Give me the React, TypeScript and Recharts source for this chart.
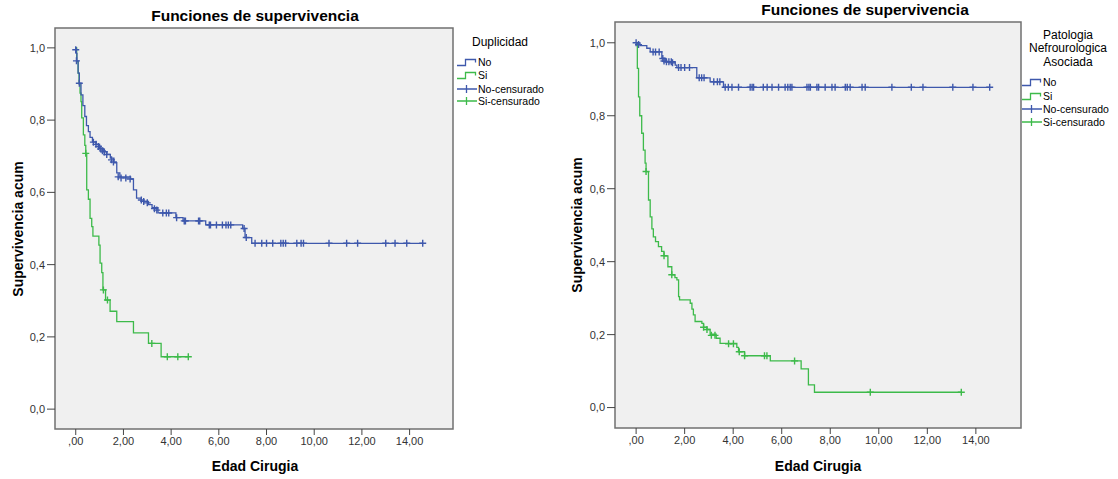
import React from 'react';
import { ComposedChart, Line, Scatter, XAxis, YAxis, ReferenceArea } from 'recharts';

const BLUE = '#3E58AC';
const GREEN = '#3DBA4A';
const FONT = '"Liberation Sans", Arial, sans-serif';

const xTicks = [0, 2, 4, 6, 8, 10, 12, 14];
const yTicks = [0, 0.2, 0.4, 0.6, 0.8, 1.0];

const chartTitle = 'Funciones de supervivencia';
const xAxisTitle = 'Edad Cirugia';
const yAxisTitle = 'Supervivencia acum';
const legendLeftTitle = ['Duplicidad'];
const legendRightTitle = ['Patologia', 'Nefrourologica', 'Asociada'];
const legendItems = ['No', 'Si', 'No-censurado', 'Si-censurado'];

// Left panel: Duplicidad
const dupNoTimes = [0, 0.02, 0.05, 0.1, 0.15, 0.22, 0.3, 0.38, 0.45, 0.53, 0.6, 0.7, 0.85, 1.0, 1.15, 1.3, 1.45, 1.6, 1.72, 1.85, 2.3, 2.42, 2.55, 2.75, 3.05, 3.2, 3.45, 4.2, 4.5, 5.45, 7.0, 7.1, 7.38, 14.55];
const dupNoSurv = [1.0, 0.985, 0.964, 0.93, 0.902, 0.87, 0.84, 0.81, 0.785, 0.768, 0.752, 0.74, 0.733, 0.722, 0.713, 0.705, 0.695, 0.682, 0.654, 0.643, 0.637, 0.607, 0.584, 0.575, 0.566, 0.558, 0.543, 0.53, 0.521, 0.51, 0.5, 0.475, 0.459, 0.459];
const dupNoCensT = [0.0, 0.03, 0.15, 0.74, 0.85, 0.95, 1.05, 1.12, 1.2, 1.3, 1.5, 1.58, 1.78, 1.9, 2.1, 2.28, 2.75, 2.85, 3.0, 3.3, 3.4, 3.65, 3.8, 3.9, 4.23, 4.55, 4.6, 5.15, 5.2, 5.6, 5.65, 5.9, 6.15, 6.3, 6.4, 6.5, 7.06, 7.15, 7.52, 7.8, 8.0, 8.26, 8.6, 8.7, 8.8, 9.27, 9.45, 9.55, 10.62, 11.36, 11.82, 13.0, 13.39, 13.88, 14.55];
const dupNoCensS = [0.995, 0.964, 0.902, 0.739, 0.733, 0.727, 0.72, 0.715, 0.712, 0.705, 0.69, 0.684, 0.643, 0.64, 0.64, 0.637, 0.579, 0.575, 0.571, 0.555, 0.551, 0.543, 0.543, 0.543, 0.53, 0.521, 0.521, 0.521, 0.521, 0.51, 0.51, 0.51, 0.51, 0.51, 0.51, 0.51, 0.5, 0.475, 0.459, 0.459, 0.459, 0.459, 0.459, 0.459, 0.459, 0.459, 0.459, 0.459, 0.459, 0.459, 0.459, 0.459, 0.459, 0.459, 0.459];

const dupSiTimes = [0, 0.04, 0.1, 0.14, 0.18, 0.22, 0.25, 0.32, 0.38, 0.42, 0.46, 0.53, 0.6, 0.67, 0.72, 0.97, 1.02, 1.09, 1.14, 1.25, 1.44, 1.72, 2.42, 3.05, 3.58, 4.72];
const dupSiSurv = [1.0, 0.962, 0.93, 0.9, 0.875, 0.851, 0.806, 0.759, 0.73, 0.708, 0.607, 0.581, 0.528, 0.505, 0.479, 0.454, 0.404, 0.378, 0.33, 0.302, 0.271, 0.242, 0.211, 0.182, 0.145, 0.145];
const dupSiCensT = [0.42, 1.16, 1.33, 3.19, 3.84, 4.28, 4.72];
const dupSiCensS = [0.708, 0.33, 0.302, 0.182, 0.145, 0.145, 0.145];

// Right panel: Patologia Nefrourologica Asociada
const patNoTimes = [0, 0.16, 0.44, 0.58, 1.06, 1.2, 1.61, 1.68, 2.5, 3.05, 3.6, 14.57];
const patNoSurv = [1.0, 0.992, 0.985, 0.975, 0.957, 0.948, 0.939, 0.932, 0.904, 0.893, 0.878, 0.878];
const patNoCensT = [0.0, 0.1, 0.7, 0.8, 0.95, 1.1, 1.15, 1.25, 1.35, 1.45, 1.5, 1.75, 1.85, 2.0, 2.2, 2.6, 2.7, 2.8, 3.2, 3.35, 3.45, 3.67, 3.8, 3.95, 4.22, 4.7, 4.78, 4.84, 5.24, 5.4, 5.6, 5.87, 6.14, 6.25, 6.35, 6.42, 7.04, 7.12, 7.18, 7.45, 7.52, 7.79, 8.07, 8.2, 8.62, 8.7, 8.82, 9.31, 9.44, 10.54, 11.34, 11.82, 13.05, 13.88, 14.57];
const patNoCensS = [1.0, 0.995, 0.975, 0.975, 0.975, 0.957, 0.95, 0.948, 0.948, 0.948, 0.945, 0.932, 0.932, 0.932, 0.932, 0.904, 0.904, 0.904, 0.893, 0.893, 0.893, 0.878, 0.878, 0.878, 0.878, 0.878, 0.878, 0.878, 0.878, 0.878, 0.878, 0.878, 0.878, 0.878, 0.878, 0.878, 0.878, 0.878, 0.878, 0.878, 0.878, 0.878, 0.878, 0.878, 0.878, 0.878, 0.878, 0.878, 0.878, 0.878, 0.878, 0.878, 0.878, 0.878, 0.878];

const patSiTimes = [0, 0.05, 0.1, 0.15, 0.23, 0.3, 0.37, 0.41, 0.51, 0.58, 0.65, 0.71, 0.8, 0.92, 1.05, 1.15, 1.31, 1.47, 1.6, 1.68, 1.75, 1.79, 2.23, 2.3, 2.36, 2.43, 2.71, 2.78, 2.92, 3.05, 3.3, 3.46, 4.15, 4.22, 4.47, 5.53, 6.8, 7.1, 7.35, 13.4];
const patSiSurv = [1.0, 0.93, 0.852, 0.8, 0.752, 0.706, 0.67, 0.647, 0.569, 0.523, 0.49, 0.468, 0.455, 0.441, 0.428, 0.416, 0.386, 0.364, 0.356, 0.35, 0.304, 0.295, 0.286, 0.27, 0.254, 0.236, 0.231, 0.22, 0.214, 0.201, 0.19, 0.176, 0.165, 0.153, 0.142, 0.128, 0.106, 0.062, 0.042, 0.042];
const patSiCensT = [0.41, 1.15, 1.47, 2.78, 2.92, 3.1, 3.25, 3.81, 4.01, 4.25, 4.47, 5.29, 5.39, 6.53, 9.65, 13.4];
const patSiCensS = [0.647, 0.416, 0.364, 0.22, 0.214, 0.198, 0.198, 0.175, 0.175, 0.153, 0.142, 0.142, 0.142, 0.128, 0.042, 0.042];

const zip = (xs: number[], ys: number[]) => xs.map((x, i) => ({ x, y: ys[i] }));

const fmtX = (v: number) => (v === 0 ? ',00' : v.toFixed(2).replace('.', ','));
const fmtY = (v: number) => v.toFixed(1).replace('.', ',');

const makeCross = (color: string) => (props: any) => {
  const { cx, cy } = props;
  if (cx == null || cy == null) return <g />;
  return (
    <path
      d={`M${cx - 3.5},${cy}H${cx + 3.5}M${cx},${cy - 3.5}V${cy + 3.5}`}
      stroke={color}
      strokeWidth={1.4}
      fill="none"
    />
  );
};

type PanelProps = {
  width: number;
  margin: { top: number; right: number; bottom: number; left: number };
  xDomain: [number, number];
  yDomain: [number, number];
  noLine: { x: number; y: number }[];
  siLine: { x: number; y: number }[];
  noCens: { x: number; y: number }[];
  siCens: { x: number; y: number }[];
};

const Panel = ({ width, margin, xDomain, yDomain, noLine, siLine, noCens, siCens }: PanelProps) => (
  <ComposedChart width={width} height={479} margin={margin}>
    <XAxis
      dataKey="x"
      type="number"
      domain={xDomain}
      ticks={xTicks}
      tickFormatter={fmtX}
      allowDataOverflow
      axisLine={false}
      tickLine={{ stroke: '#444' }}
      tickSize={6}
      tickMargin={2}
      height={30}
      tick={{ fill: '#333', fontSize: 11, fontFamily: FONT }}
    />
    <YAxis
      dataKey="y"
      type="number"
      domain={yDomain}
      ticks={yTicks}
      tickFormatter={fmtY}
      allowDataOverflow
      axisLine={false}
      tickLine={{ stroke: '#444' }}
      tickSize={8}
      tickMargin={2}
      width={40}
      tick={{ fill: '#333', fontSize: 11, fontFamily: FONT }}
    />
    <ReferenceArea
      x1={xDomain[0]}
      x2={xDomain[1]}
      y1={yDomain[0]}
      y2={yDomain[1]}
      fill="#F0F0F0"
      fillOpacity={1}
      stroke="#707070"
      strokeWidth={1.5}
      ifOverflow="visible"
    />
    <Line data={siLine} dataKey="y" type="stepAfter" stroke={GREEN} strokeWidth={1.3} dot={false} activeDot={false} isAnimationActive={false} />
    <Line data={noLine} dataKey="y" type="stepAfter" stroke={BLUE} strokeWidth={1.3} dot={false} activeDot={false} isAnimationActive={false} />
    <Scatter data={siCens} dataKey="y" shape={makeCross(GREEN)} isAnimationActive={false} />
    <Scatter data={noCens} dataKey="y" shape={makeCross(BLUE)} isAnimationActive={false} />
  </ComposedChart>
);

const txt = (text: string, x: number, y: number, style: React.CSSProperties = {}) => (
  <div
    key={text + x + y}
    style={{
      position: 'absolute',
      left: x,
      top: y,
      transform: 'translate(-50%, -50%)',
      whiteSpace: 'nowrap',
      lineHeight: 1,
      fontFamily: FONT,
      color: '#000',
      ...style,
    }}
  >
    {text}
  </div>
);

const LegendSymbol = ({ color, kind }: { color: string; kind: 'step' | 'cens' }) => (
  <svg width={22} height={12} style={{ display: 'block' }}>
    {kind === 'step' ? (
      <path d="M1,9.5H9.5V3.5H19.5V6.5" stroke={color} strokeWidth={1.3} fill="none" />
    ) : (
      <path d="M1,6H21M10.5,2V10" stroke={color} strokeWidth={1.3} fill="none" />
    )}
  </svg>
);

const Legend = ({ x, ys }: { x: number; ys: number[] }) => (
  <>
    {legendItems.map((label, i) => {
      const color = i % 2 === 0 ? BLUE : GREEN;
      const kind = i < 2 ? 'step' : 'cens';
      return (
        <div
          key={label}
          style={{
            position: 'absolute',
            left: x,
            top: ys[i] - 6,
            height: 12,
            display: 'flex',
            alignItems: 'center',
            fontFamily: FONT,
            fontSize: 10.5,
            color: '#000',
            whiteSpace: 'nowrap',
          }}
        >
          <LegendSymbol color={color} kind={kind as any} />
          <span>{label}</span>
        </div>
      );
    })}
  </>
);

export default function App() {
  return (
    <div style={{ position: 'absolute', left: 0, top: 0, width: 1118, height: 479, background: '#fff', overflow: 'hidden' }}>
      <div style={{ position: 'absolute', left: 0, top: 0 }}>
        <Panel
          width={560}
          margin={{ top: 28, right: 107, bottom: 20, left: 15 }}
          xDomain={[-0.87, 15.82]}
          yDomain={[-0.055, 1.055]}
          noLine={zip(dupNoTimes, dupNoSurv)}
          siLine={zip(dupSiTimes, dupSiSurv)}
          noCens={zip(dupNoCensT, dupNoCensS)}
          siCens={zip(dupSiCensT, dupSiCensS)}
        />
      </div>
      <div style={{ position: 'absolute', left: 560, top: 0 }}>
        <Panel
          width={558}
          margin={{ top: 22, right: 97, bottom: 21, left: 15 }}
          xDomain={[-0.87, 15.86]}
          yDomain={[-0.056, 1.057]}
          noLine={zip(patNoTimes, patNoSurv)}
          siLine={zip(patSiTimes, patSiSurv)}
          noCens={zip(patNoCensT, patNoCensS)}
          siCens={zip(patSiCensT, patSiCensS)}
        />
      </div>

      {txt(chartTitle, 255, 15.5, { fontSize: 15.5, fontWeight: 'bold' })}
      {txt(chartTitle, 865, 9.5, { fontSize: 15.5, fontWeight: 'bold' })}
      {txt(xAxisTitle, 255, 466, { fontSize: 14, fontWeight: 'bold' })}
      {txt(xAxisTitle, 818, 466, { fontSize: 14, fontWeight: 'bold' })}
      {txt(yAxisTitle, 18, 229, { fontSize: 14, fontWeight: 'bold', transform: 'translate(-50%, -50%) rotate(-90deg)' })}
      {txt(yAxisTitle, 577, 225, { fontSize: 14, fontWeight: 'bold', transform: 'translate(-50%, -50%) rotate(-90deg)' })}

      {legendLeftTitle.map((t, i) => txt(t, 500, 42 + i * 13, { fontSize: 12 }))}
      {legendRightTitle.map((t, i) => txt(t, 1068, 35 + i * 13.3, { fontSize: 12 }))}

      <Legend x={456} ys={[62, 75, 89, 101]} />
      <Legend x={1021} ys={[82, 95.5, 109, 122]} />
    </div>
  );
}
